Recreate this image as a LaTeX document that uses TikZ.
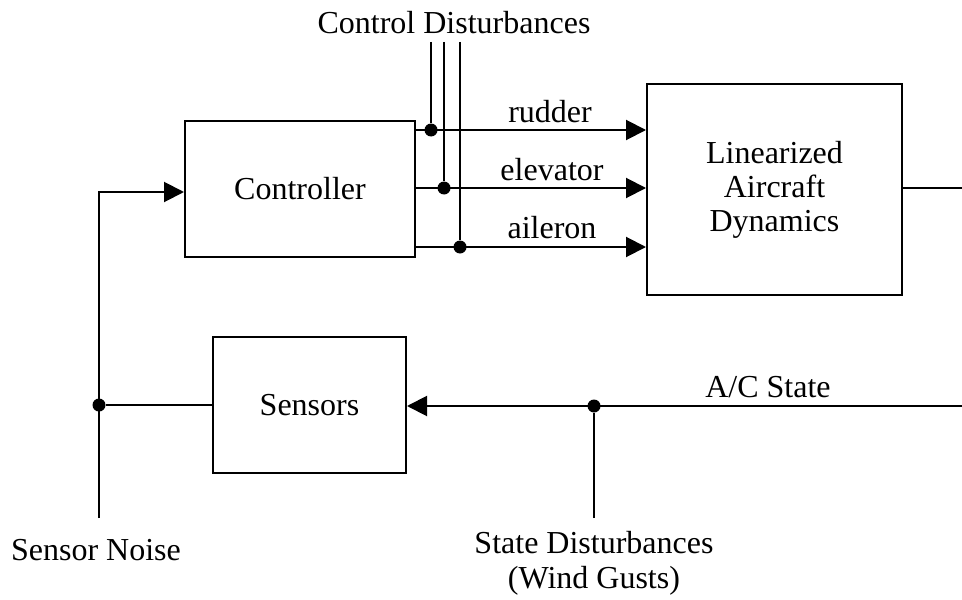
\documentclass[tikz,border=0pt]{standalone}
\usepackage{fontspec}
\setmainfont{Liberation Serif}
\usetikzlibrary{arrows.meta,positioning,calc}
\begin{document}
\begin{tikzpicture}[x=0.5pt,y=-0.5pt,>={Triangle[length=10pt,width=10pt]},
  blk/.style={draw,line width=1pt,align=center,inner sep=0pt,font=\fontsize{16}{17}\selectfont},
  lbl/.style={inner sep=0pt,align=center,font=\fontsize{16}{17.5}\selectfont},
  ln/.style={line width=1pt},
  ar/.style={->,line width=1pt},
  jd/.style={circle,fill,inner sep=0pt,minimum size=6.5pt}]
\useasboundingbox (0,0) rectangle (962,599);
\node[blk,minimum width=115pt,minimum height=68pt] (ctrl) at (300,189) {Controller};
\node[blk,minimum width=127.5pt,minimum height=105.5pt] (lad) at (774.5,189.5) {Linearized\\Aircraft\\Dynamics};
\node[blk,minimum width=96.5pt,minimum height=68pt] (sens) at (309.5,405) {Sensors};
% control surfaces and their disturbances
\node[lbl] (cd) at (454,23) {Control Disturbances};
\coordinate (cdtop) at (454,42);
\node[jd] (jr) at (431,130) {};
\node[jd] (je) at (444,188) {};
\node[jd] (ja) at (460,247) {};
\draw[ar] (ctrl.east |- jr) -- (lad.west |- jr);
\draw[ar] (ctrl.east |- je) -- (lad.west |- je);
\draw[ar] (ctrl.east |- ja) -- (lad.west |- ja);
\draw[ln] (jr |- cdtop) -- (jr); \draw[ln] (je |- cdtop) -- (je); \draw[ln] (ja |- cdtop) -- (ja);
\node[lbl] (rud) at (550,112) {rudder};
\node[lbl] (elev) at (552,170) {elevator};
\node[lbl] (ail) at (552,228) {aileron};
% state feedback
\coordinate (out) at (962,188);
\draw[ln] (lad.east |- out) -- (out);
\coordinate (acin) at (962,406);
\node[jd] (jw) at (594,406) {};
\draw[ar] (acin) -- (sens.east |- acin);
\node[lbl] (acs) at (768,387) {A/C State};
\coordinate (sd) at (594,518);
\draw[ln] (sd) -- (jw);
\node[lbl] (sdl) at (594,563) {State Disturbances\\(Wind Gusts)};
% sensor noise
\node[jd] (js) at (99,405) {};
\coordinate (sn) at (99,518);
\draw[ln] (sens.west) -- (js);
\draw[ar] (sn) |- ($(ctrl.west)+(0,3)$);
\node[lbl] (snl) at (96,550) {Sensor Noise};
\end{tikzpicture}
\end{document}
